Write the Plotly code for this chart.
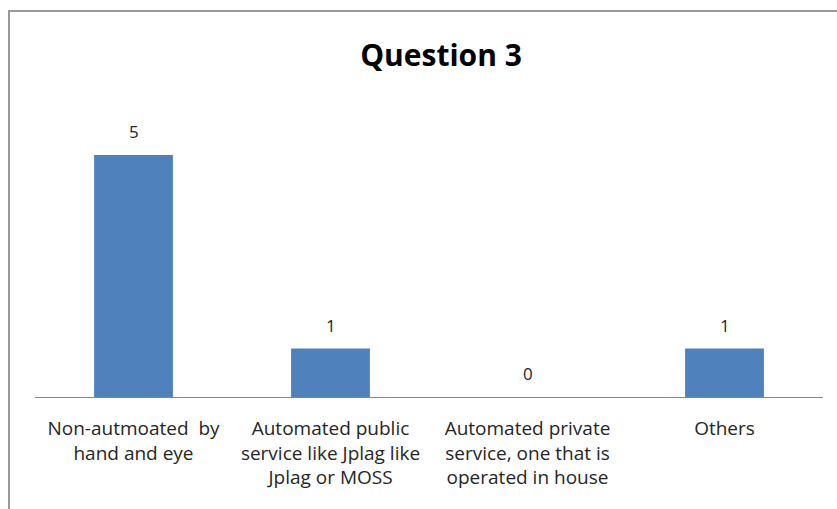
import plotly.graph_objects as go

# Survey responses for Question 3
categories = [
    "Non-autmoated  by<br>hand and eye",
    "Automated public<br>service like Jplag like<br>Jplag or MOSS",
    "Automated private<br>service, one that is<br>operated in house",
    "Others",
]
counts = [5, 1, 0, 1]
title_text = "Question 3"

BAR_COLOR = "#4f81bd"
TEXT_COLOR = "#262626"
FONT = "'Open Sans', sans-serif"

fig = go.Figure(
    go.Bar(
        x=categories,
        y=counts,
        marker=dict(color=BAR_COLOR, line=dict(width=0)),
        width=0.4,
        hoverinfo="skip",
    )
)

# Value labels above each bar
for cat, val in zip(categories, counts):
    fig.add_annotation(
        x=cat, y=val, text=str(val), showarrow=False,
        yanchor="bottom", yshift=10,
        font=dict(family=FONT, size=17, color=TEXT_COLOR),
    )

fig.update_layout(
    width=837,
    height=509,
    margin=dict(l=35, r=14, t=100, b=112),
    paper_bgcolor="white",
    plot_bgcolor="white",
    showlegend=False,
    title=dict(
        text=f"<b>{title_text}</b>",
        x=441 / 837, xanchor="center",
        y=1 - 55 / 509, yanchor="middle",
        font=dict(family=FONT, size=30, color="black"),
    ),
    xaxis=dict(
        showline=True, linecolor="#868686", linewidth=1,
        showgrid=False, ticks="", zeroline=False,
        tickfont=dict(family=FONT, size=19, color=TEXT_COLOR),
        ticklabelstandoff=14,
    ),
    yaxis=dict(
        range=[0, 297 / 48.4],
        visible=False, showgrid=False, zeroline=False,
    ),
    shapes=[
        # chart frame
        dict(
            type="rect", xref="paper", yref="paper",
            x0=(9 - 35) / 788, x1=1.1,
            y0=-0.6, y1=(397 - 11) / 297,
            line=dict(color="#9a9a9a", width=2),
            fillcolor="rgba(0,0,0,0)", layer="below",
        )
    ],
)

fig.write_html("out.html")
